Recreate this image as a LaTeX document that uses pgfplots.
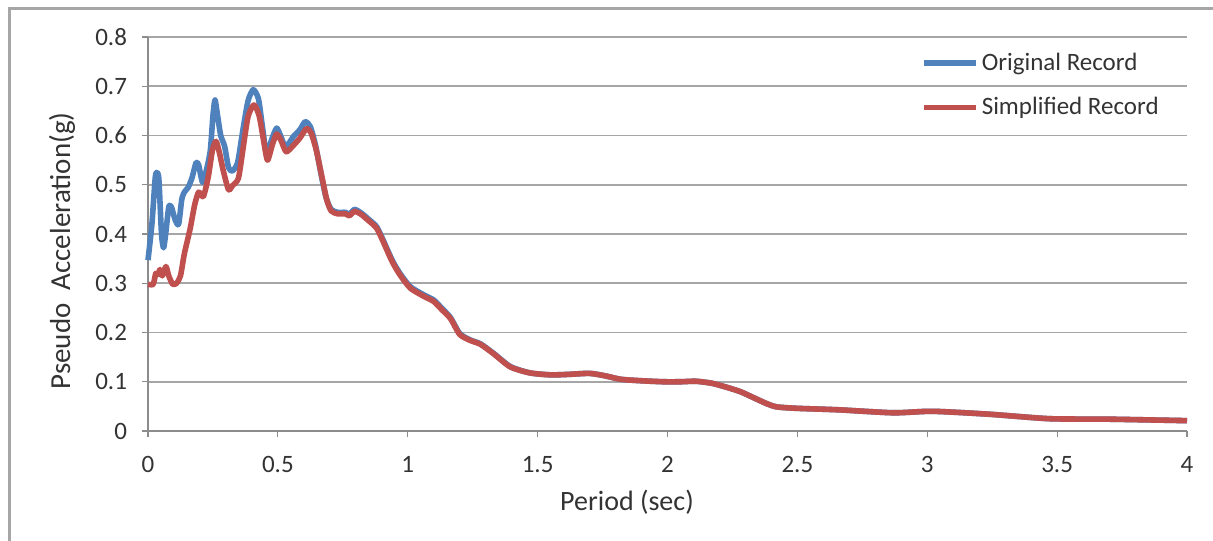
\documentclass[border=0pt]{standalone}
\usepackage{pgfplots}
\pgfplotsset{compat=1.18}
\usepackage{fontspec}
\setmainfont{Carlito}
\definecolor{blueline}{HTML}{4F81BD}
\definecolor{redline}{HTML}{C0504D}
\definecolor{gridgray}{HTML}{A6A6A6}
\definecolor{axisgray}{HTML}{8C8C8C}
\begin{document}
\begin{tikzpicture}
\useasboundingbox (-74pt,-54.5pt) rectangle (532.5pt,215.5pt);
\draw[gray!70, line width=1.5pt] (-69pt,-60pt) -- (-69pt,211pt) -- (540pt,211pt);
\begin{axis}[
  scale only axis,
  width=519.5pt, height=197pt,
  xmin=0, xmax=4, ymin=0, ymax=0.8,
  xtick={0,0.5,...,4}, ytick={0,0.1,...,0.8},
  axis x line=bottom, axis y line=left,
  axis line style={draw=axisgray, line width=0.6pt, -},
  tick align=outside, major tick length=3pt,
  tick style={draw=axisgray, line width=0.6pt},
  ymajorgrids, grid style={draw=gridgray, line width=0.9pt},
  /pgf/number format/assume math mode=true,
  /pgf/number format/fixed,
  /pgf/number format/precision=1,
  ticklabel style={font=\fontsize{12.5}{14}\selectfont, text=black!80},
  xticklabel style={yshift=-6pt},
  yticklabel style={xshift=-4pt},
  xlabel={Period (sec)},
  ylabel={Pseudo\ \ Acceleration(g)},
  every axis x label/.style={at={(axis description cs:0.461,-0.18)}, anchor=center,
    font=\fontsize{14}{16}\selectfont, text=black!80},
  every axis y label/.style={at={(axis description cs:-0.0828,0.457)}, rotate=90, anchor=center,
    font=\fontsize{14.5}{16}\selectfont, text=black!80},
  legend style={draw=none, fill=none, at={(axis description cs:0.738,0.877)}, anchor=west,
    font=\fontsize{12.5}{14}\selectfont, text=black!80, row sep=9pt,
    nodes={inner sep=1.5pt}},
  legend cell align=left,
  legend image code/.code={\draw[#1] (0pt,0pt) -- (26pt,0pt);},
  clip=false,
]
\addplot[blueline, line width=2.8pt, line join=round, smooth, tension=0.4] coordinates {
(0.000,0.347) (0.015,0.420) (0.028,0.515) (0.035,0.525) (0.042,0.510) (0.052,0.400)
(0.060,0.372) (0.068,0.400) (0.080,0.455) (0.090,0.455) (0.105,0.428) (0.118,0.420)
(0.130,0.470) (0.140,0.485) (0.155,0.495) (0.170,0.515) (0.185,0.545) (0.195,0.540)
(0.210,0.505) (0.225,0.530) (0.240,0.570) (0.250,0.640) (0.258,0.672) (0.268,0.640)
(0.280,0.600) (0.295,0.578) (0.310,0.535) (0.325,0.528) (0.345,0.545) (0.365,0.610)
(0.385,0.670) (0.405,0.693) (0.425,0.675) (0.440,0.620) (0.457,0.560) (0.475,0.590)
(0.495,0.615) (0.510,0.600) (0.530,0.577) (0.560,0.598) (0.585,0.612) (0.605,0.628)
(0.625,0.618) (0.645,0.580) (0.665,0.525) (0.685,0.475) (0.705,0.450) (0.730,0.444)
(0.760,0.444) (0.775,0.440) (0.795,0.450) (0.820,0.443) (0.845,0.432) (0.880,0.415)
(0.905,0.388) (0.940,0.347) (0.970,0.320) (1.010,0.293) (1.060,0.277) (1.100,0.266)
(1.130,0.250) (1.165,0.230) (1.200,0.198) (1.240,0.185) (1.280,0.177) (1.330,0.158)
(1.395,0.131) (1.470,0.118) (1.550,0.114) (1.620,0.115) (1.700,0.117) (1.760,0.112)
(1.820,0.105) (1.900,0.102) (1.985,0.100) (2.050,0.100) (2.110,0.101) (2.170,0.097)
(2.220,0.090) (2.280,0.080) (2.330,0.068) (2.380,0.056) (2.420,0.049) (2.500,0.046)
(2.660,0.043) (2.870,0.037) (3.020,0.040) (3.240,0.034) (3.470,0.025) (3.700,0.024)
(4.000,0.021)
};
\addlegendentry{Original Record}
\addplot[redline, line width=2.8pt, line join=round, smooth, tension=0.4] coordinates {
(0.000,0.298) (0.020,0.298) (0.030,0.320) (0.040,0.318) (0.046,0.328) (0.055,0.315)
(0.069,0.334) (0.080,0.315) (0.095,0.298) (0.110,0.300) (0.125,0.315) (0.140,0.360)
(0.162,0.410) (0.180,0.460) (0.195,0.485) (0.213,0.476) (0.232,0.516) (0.248,0.570)
(0.262,0.588) (0.275,0.565) (0.290,0.528) (0.310,0.490) (0.325,0.498) (0.348,0.513)
(0.365,0.570) (0.385,0.638) (0.408,0.662) (0.428,0.640) (0.445,0.590) (0.460,0.550)
(0.478,0.580) (0.495,0.603) (0.512,0.590) (0.532,0.567) (0.560,0.580) (0.585,0.595)
(0.610,0.614) (0.628,0.605) (0.648,0.570) (0.668,0.520) (0.688,0.470) (0.705,0.447)
(0.730,0.441) (0.760,0.441) (0.775,0.437) (0.795,0.446) (0.820,0.440) (0.845,0.429)
(0.880,0.412) (0.905,0.385) (0.940,0.344) (0.970,0.317) (1.010,0.290) (1.060,0.274)
(1.100,0.263) (1.130,0.247) (1.165,0.228) (1.200,0.196) (1.240,0.184) (1.280,0.176)
(1.330,0.157) (1.395,0.130) (1.470,0.118) (1.550,0.114) (1.620,0.115) (1.700,0.117)
(1.760,0.112) (1.820,0.105) (1.900,0.102) (1.985,0.100) (2.050,0.100) (2.110,0.101)
(2.170,0.097) (2.220,0.090) (2.280,0.080) (2.330,0.068) (2.380,0.056) (2.420,0.049)
(2.500,0.046) (2.660,0.043) (2.870,0.037) (3.020,0.040) (3.240,0.034) (3.470,0.025)
(3.700,0.024) (4.000,0.021)
};
\addlegendentry{Simplified Record}
\end{axis}
\end{tikzpicture}
\end{document}
